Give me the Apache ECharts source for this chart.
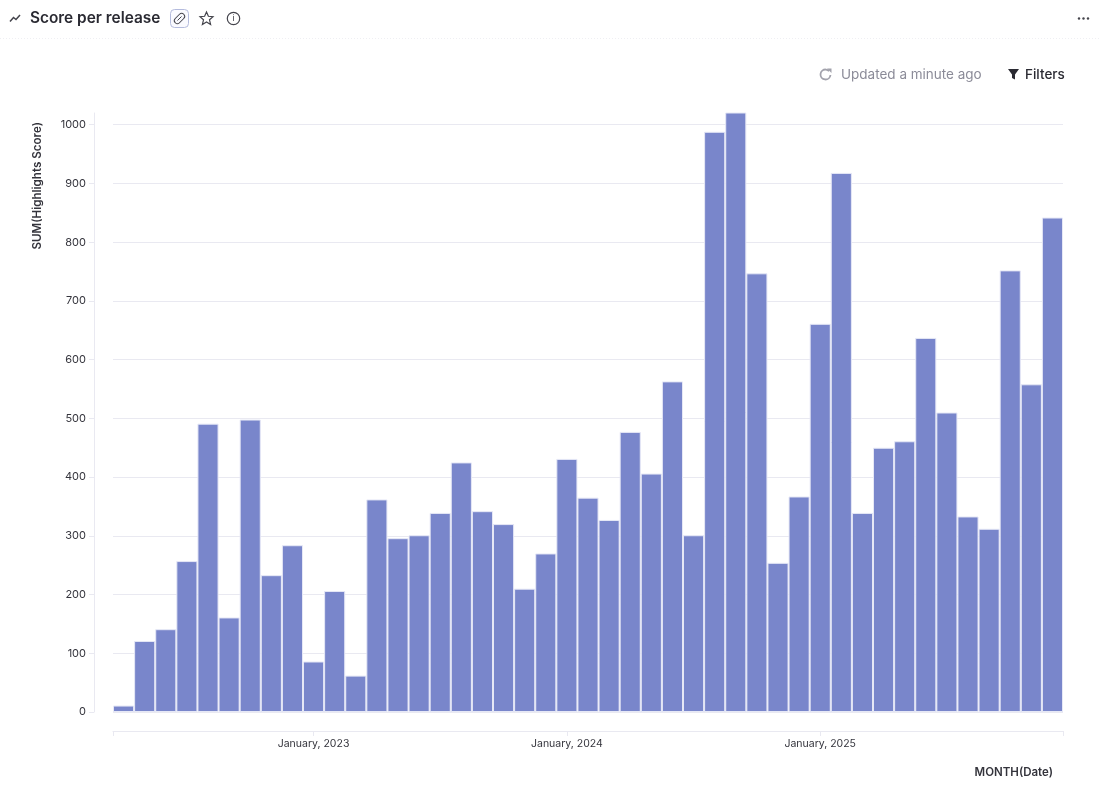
<!DOCTYPE html>
<html>
<head>
<meta charset="utf-8">
<style>
html, body { margin: 0; padding: 0; background: #fff; }
#chart { width: 1100px; height: 790px; }
</style>
<script src="https://cdn.jsdelivr.net/npm/echarts@6/dist/echarts.min.js"></script>
</head>
<body>
<div id="chart"></div>
<script>
var months = ["Apr 2022","May 2022","Jun 2022","Jul 2022","Aug 2022","Sep 2022","Oct 2022","Nov 2022","Dec 2022",
    "January, 2023","Feb 2023","Mar 2023","Apr 2023","May 2023","Jun 2023","Jul 2023","Aug 2023","Sep 2023","Oct 2023","Nov 2023","Dec 2023",
    "January, 2024","Feb 2024","Mar 2024","Apr 2024","May 2024","Jun 2024","Jul 2024","Aug 2024","Sep 2024","Oct 2024","Nov 2024","Dec 2024",
    "January, 2025","Feb 2025","Mar 2025","Apr 2025","May 2025","Jun 2025","Jul 2025","Aug 2025","Sep 2025","Oct 2025","Nov 2025","Dec 2025"];
var scores = [11,121,141,257,491,161,498,233,284,86,206,62,362,296,301,339,425,342,320,210,270,431,365,327,477,406,563,301,988,1022,747,254,367,661,918,339,450,461,637,510,333,312,752,558,842];
var xTickLabels = ["January, 2023","January, 2024","January, 2025"];
// tick positions on the month bands: both ends and the middle of each January
var xTickPositions = [0, 9.5, 21.5, 33.5, 45];

var fontName = "Inter";
var textColor = "#34343c";
var lineColor = "#e9e9f1";

var myChart = echarts.init(document.getElementById("chart"), null, { renderer: "canvas" });

var iconStroke = { stroke: "#44444c", lineWidth: 1.2, fill: "none" };

option = {
    animation: false,
    backgroundColor: "#fff",
    textStyle: { fontFamily: fontName },
    title: {
        text: "Score per release",
        left: 30,
        top: 8,
        padding: 0,
        textStyle: { fontFamily: fontName, fontSize: 15.4, fontWeight: 600, color: "#2a2a32", lineHeight: 20 },
    },
    grid: { left: 113, right: 37, top: 113, bottom: 78, outerBoundsMode: "none" },
    xAxis: [{
        type: "category",
        data: months,
        offset: 19,
        name: "MONTH(Date)",
        nameLocation: "end",
        nameGap: -10,
        nameTextStyle: { align: "right", verticalAlign: "top", fontSize: 11.5, fontWeight: 600, color: textColor, padding: [36, 0, 0, 0] },
        axisLine: { show: false, onZero: false },
        axisTick: { show: false },
        axisLabel: {
            fontSize: 10.5,
            color: textColor,
            margin: 7,
            hideOverlap: false,
            interval: function(i, v) { return xTickLabels.indexOf(v) != -1; },
        },
    }, {
        // only carries the axis line and ticks, the category axis has no tick between bands
        type: "value",
        position: "bottom",
        min: 0,
        max: 45,
        offset: 19,
        axisLine: { show: true, onZero: false, lineStyle: { color: lineColor, width: 1 } },
        axisTick: { show: true, length: 5, lineStyle: { color: lineColor }, customValues: xTickPositions },
        axisLabel: { show: false },
        splitLine: { show: false },
    }],
    yAxis: {
        type: "value",
        min: 0,
        max: 1020,
        interval: 100,
        offset: 19,
        name: "SUM(Highlights Score)",
        nameLocation: "end",
        nameRotate: 90,
        nameGap: -9,
        nameTextStyle: { align: "right", verticalAlign: "bottom", fontSize: 11.6, fontWeight: 600, color: textColor, padding: [0, 0, 50, 0] },
        axisLine: { show: true, onZero: false, lineStyle: { color: lineColor, width: 1 } },
        axisTick: { show: true, length: 5, lineStyle: { color: lineColor } },
        axisLabel: {
            fontSize: 11,
            color: textColor,
            margin: 8,
            showMaxLabel: false,
            formatter: function(v) { return String(v); },
        },
        splitLine: { show: true, showMaxLine: false, lineStyle: { color: lineColor, width: 1 } },
    },
    series: [{
        name: "SUM(Highlights Score)",
        type: "bar",
        xAxisIndex: 0,
        data: scores,
        barWidth: "100%",
        itemStyle: { color: "#7986cb", borderColor: "#e6e8f6", borderWidth: 1 },
    }],
    graphic: [
        // top bar
        { type: "line", shape: { x1: 0, y1: 38.5, x2: 1100, y2: 38.5 }, style: { stroke: "#efeff3", lineWidth: 1, lineDash: [1, 2] } },
        { type: "polyline", shape: { points: [[10, 21.5], [13.5, 17.5], [16, 19.5], [20, 15]] }, style: { stroke: "#44444c", lineWidth: 1.5, fill: "none" } },
        { type: "rect", shape: { x: 170.5, y: 9.5, width: 18, height: 18, r: 4 }, style: { stroke: "#b4bbdd", lineWidth: 1, fill: "#fafaff" } },
        { type: "rect", shape: { x: 173.5, y: 15.5, width: 12, height: 6, r: 3 }, rotation: Math.PI / 4, originX: 179.5, originY: 18.5, style: { stroke: "#44444c", lineWidth: 1, fill: "none" } },
        { type: "line", shape: { x1: 177.5, y1: 20.5, x2: 181.5, y2: 16.5 }, style: { stroke: "#44444c", lineWidth: 1 } },
        { type: "polygon", shape: { points: [[206.5, 12], [208.4, 16.3], [213, 16.7], [209.5, 19.8], [210.6, 24.4], [206.5, 22], [202.4, 24.4], [203.5, 19.8], [200, 16.7], [204.6, 16.3]] }, style: iconStroke },
        { type: "circle", shape: { cx: 233.5, cy: 18.5, r: 6.2 }, style: iconStroke },
        { type: "text", style: { text: "i", x: 233.5, y: 18.5, align: "center", verticalAlign: "middle", fontSize: 9, fontFamily: fontName, fill: "#44444c" } },
        { type: "circle", shape: { cx: 1079, cy: 18.5, r: 1.2 }, style: { fill: "#44444c" } },
        { type: "circle", shape: { cx: 1083.5, cy: 18.5, r: 1.2 }, style: { fill: "#44444c" } },
        { type: "circle", shape: { cx: 1088, cy: 18.5, r: 1.2 }, style: { fill: "#44444c" } },
        // status line
        { type: "arc", shape: { cx: 825.5, cy: 74.5, r: 5, startAngle: 0.1, endAngle: -0.75, clockwise: true }, style: { stroke: "#a2a2ac", lineWidth: 1.8, fill: "none" } },
        { type: "polygon", shape: { points: [[827, 68.5], [831.5, 68.5], [831.5, 73]] }, style: { fill: "#a2a2ac" } },
        { type: "text", style: { text: "Updated a minute ago", x: 841, y: 75, verticalAlign: "middle", fontSize: 13.5, fontFamily: fontName, fill: "#8b8b98" } },
        { type: "polygon", shape: { points: [[1008, 69], [1019, 69], [1015, 74.5], [1015, 79.5], [1012, 78], [1012, 74.5]] }, style: { fill: "#2a2a32" } },
        { type: "text", style: { text: "Filters", x: 1025, y: 75, verticalAlign: "middle", fontSize: 13.5, fontFamily: fontName, fontWeight: 500, fill: "#2a2a32" } },
    ],
};
myChart.setOption(option);
</script>
</body>
</html>
